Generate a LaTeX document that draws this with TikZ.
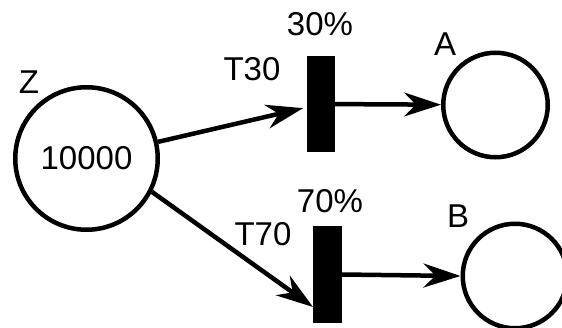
\documentclass[tikz,border=0pt]{standalone}
\usepackage{fontspec}
\setmainfont{Liberation Sans}
\usetikzlibrary{arrows.meta,calc}
\begin{document}
\begin{tikzpicture}[x=1pt,y=-1pt,
  place/.style={circle,draw=black,line width=4.5pt,inner sep=0pt,fill=white},
  trans/.style={rectangle,fill=black,draw=none,inner sep=0pt,outer sep=0pt,minimum width=28pt,minimum height=96pt},
  lab/.style={anchor=base,inner sep=0pt,font=\fontsize{33}{36}\selectfont},
  arc/.style={line width=4.5pt,-{Stealth[length=37pt,width=24pt,inset=12pt]}}
]
\useasboundingbox (0,0) rectangle (562,327);
\node[place,minimum size=142.5pt,font=\fontsize{33}{36}\selectfont] (Z) at (86.5,158.5) {\raisebox{-3pt}{10000}};
\node[place,minimum size=104.5pt] (A) at (495.5,105) {};
\node[place,minimum size=104.5pt] (B) at (515,276) {};
\node[trans] (t1) at (321,104) {};
\node[trans,minimum width=29pt,minimum height=97pt] (t2) at (327.5,274.5) {};
\node[lab] (zl) at (29,93) {Z};
\node[lab] (al) at (445,55.5) {A};
\node[lab] (bl) at (458,227) {B};
\node[lab] (p30) at (320,35) {30\%};
\node[lab] (n30) at (252,80) {T30};
\node[lab] (p70) at (330,212) {70\%};
\node[lab] (n70) at (263,245) {T70};
\draw[arc,shorten >=4pt] (Z) -- (t1);
\draw[arc] (Z.-27) -- ($(t2.west)!0.67!(t2.south west)$);
\draw[arc] (t1) -- (A);
\draw[arc] (t2.east) -- (B.west);
\end{tikzpicture}
\end{document}
